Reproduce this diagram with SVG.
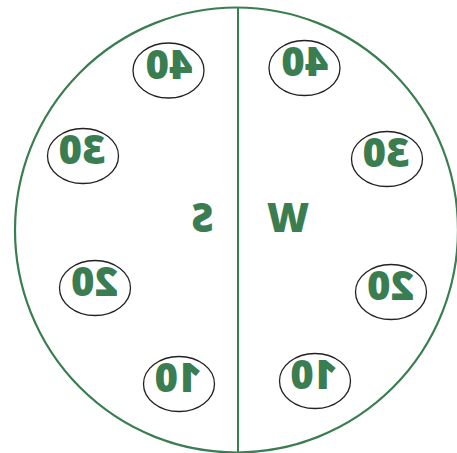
<svg xmlns="http://www.w3.org/2000/svg" width="457" height="453" viewBox="0 0 457 453">
<style>
.ring{fill:none;stroke:#3a7d50;stroke-width:2.2}
.node ellipse{fill:#fff;stroke:#222;stroke-width:1.3}
.lbl{font-family:"Open Sans","Liberation Sans",sans-serif;font-weight:800;fill:#3a7d50;text-anchor:middle}
.num{font-size:40px}
.big{font-size:40px}
</style>
<rect width="457" height="453" fill="#fff"/>
<g id="frame">
<ellipse class="ring" cx="236.5" cy="230" rx="221.5" ry="222.5"/>
</g>
<g id="connectors">
<line x1="238" y1="8" x2="238" y2="453" stroke="#3a7d50" stroke-width="2"/>
</g>
<g id="label-S"><text class="lbl big" transform="translate(202.5,232) scale(-0.95,1)">S</text></g>
<g id="label-W"><text class="lbl big" transform="translate(288,232) scale(-1.02,1)">W</text></g>
<g id="s40" class="node"><ellipse cx="168.5" cy="70.5" rx="35.5" ry="27.5"/><text class="lbl num" transform="translate(169,79) scale(-1,1)">40</text></g>
<g id="w40" class="node"><ellipse cx="304.5" cy="68" rx="35.5" ry="27.5"/><text class="lbl num" transform="translate(304.7,75.5) scale(-1,1)">40</text></g>
<g id="s30" class="node"><ellipse cx="83" cy="156" rx="35.5" ry="27.5"/><text class="lbl num" transform="translate(82,164) scale(-1,1)">30</text></g>
<g id="w30" class="node"><ellipse cx="387" cy="159" rx="35.5" ry="27.5"/><text class="lbl num" transform="translate(386,167) scale(-1,1)">30</text></g>
<g id="s20" class="node"><ellipse cx="95" cy="288" rx="35.5" ry="27.5"/><text class="lbl num" transform="translate(94.5,296) scale(-1,1)">20</text></g>
<g id="w20" class="node"><ellipse cx="391" cy="292" rx="35.5" ry="27.5"/><text class="lbl num" transform="translate(390.5,300) scale(-1,1)">20</text></g>
<g id="s10" class="node"><ellipse cx="179" cy="384" rx="35.5" ry="27.5"/><text class="lbl num" transform="translate(178,392) scale(-1,1)">10</text></g>
<g id="w10" class="node"><ellipse cx="315" cy="381" rx="35.5" ry="27.5"/><text class="lbl num" transform="translate(313.7,389) scale(-1,1)">10</text></g>
</svg>
